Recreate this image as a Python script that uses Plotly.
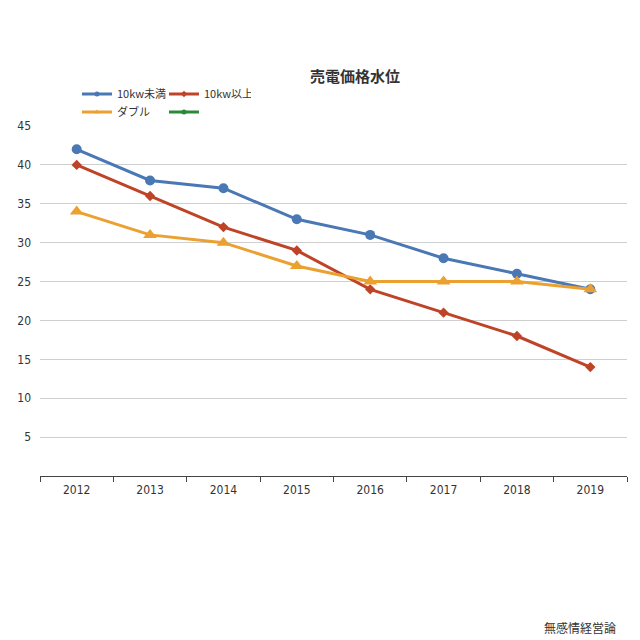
import plotly.graph_objects as go

years = ["2012", "2013", "2014", "2015", "2016", "2017", "2018", "2019"]
under10 = [42, 38, 37, 33, 31, 28, 26, 24]
over10 = [40, 36, 32, 29, 24, 21, 18, 14]
double = [34, 31, 30, 27, 25, 25, 25, 24]
yticks = [5, 10, 15, 20, 25, 30, 35, 40, 45]

font = "DejaVu Sans Condensed, Liberation Sans Narrow, sans-serif"
jfont = "Noto Sans CJK JP"

series = [
    ("10kw未満", under10, "#4a78b5", "circle", 10, "legend"),
    ("10kw以上", over10, "#bf4427", "diamond", 8, "legend"),
    ("ダブル", double, "#eba030", "triangle-up", 12, "legend2"),
]

fig = go.Figure()
for name, vals, color, sym, size, leg in series:
    fig.add_trace(go.Scatter(x=years, y=vals, name=name, mode="lines+markers",
                             line=dict(color=color, width=3),
                             marker=dict(symbol=sym, size=size, color=color),
                             showlegend=False))
# legend entries with small symbols
for name, vals, color, sym, size, leg in series + [(" ", [], "#2b8a3a", "circle", 5, "legend2")]:
    fig.add_trace(go.Scatter(x=[None], y=[None], name=name, mode="lines+markers",
                             line=dict(color=color, width=3),
                             marker=dict(symbol=sym, size=5, color=color),
                             legend=leg, showlegend=True))

legcommon = dict(orientation="h", xanchor="left", yanchor="middle",
                 font=dict(family=jfont, size=11, color="#333"),
                 bgcolor="rgba(0,0,0,0)", entrywidth=42, entrywidthmode="pixels",
                 itemwidth=30, tracegroupgap=0)

fig.update_layout(
    width=640, height=640,
    margin=dict(l=32, r=21, t=118, b=172),
    paper_bgcolor="white", plot_bgcolor="white",
    showlegend=True,
    legend=dict(x=0.063, y=(476-94)/350, **legcommon),
    legend2=dict(x=0.063, y=(476-112)/350, **legcommon),
    xaxis=dict(type="category", tickson="boundaries", ticks="outside", ticklen=5,
               tickcolor="#444", showline=True, linecolor="#444", linewidth=1,
               showgrid=False, tickfont=dict(family=font, size=12, color="#333"),
               range=[-0.5, 7.5], automargin=False, ticklabelstandoff=3),
    yaxis=dict(range=[0, 45], tickvals=yticks, showgrid=True, gridcolor="#cfcfcf",
               gridwidth=1, zeroline=False, showline=False, ticks="",
               tickfont=dict(family=font, size=12, color="#333"), ticklabelstandoff=8,
               automargin=False),
    annotations=[
        dict(text="<b>売電価格水位</b>", xref="paper", yref="paper", x=(355-40)/587,
             y=(476-75)/350, xanchor="center", yanchor="middle", showarrow=False,
             font=dict(family=jfont, size=15, color="#333")),
        dict(text="無感情経営論", xref="paper", yref="paper", x=(580-40)/587,
             y=(476-627)/350, xanchor="center", yanchor="middle", showarrow=False,
             font=dict(family=jfont, size=12, color="#333")),
    ],
)

fig.write_html("out.html")
